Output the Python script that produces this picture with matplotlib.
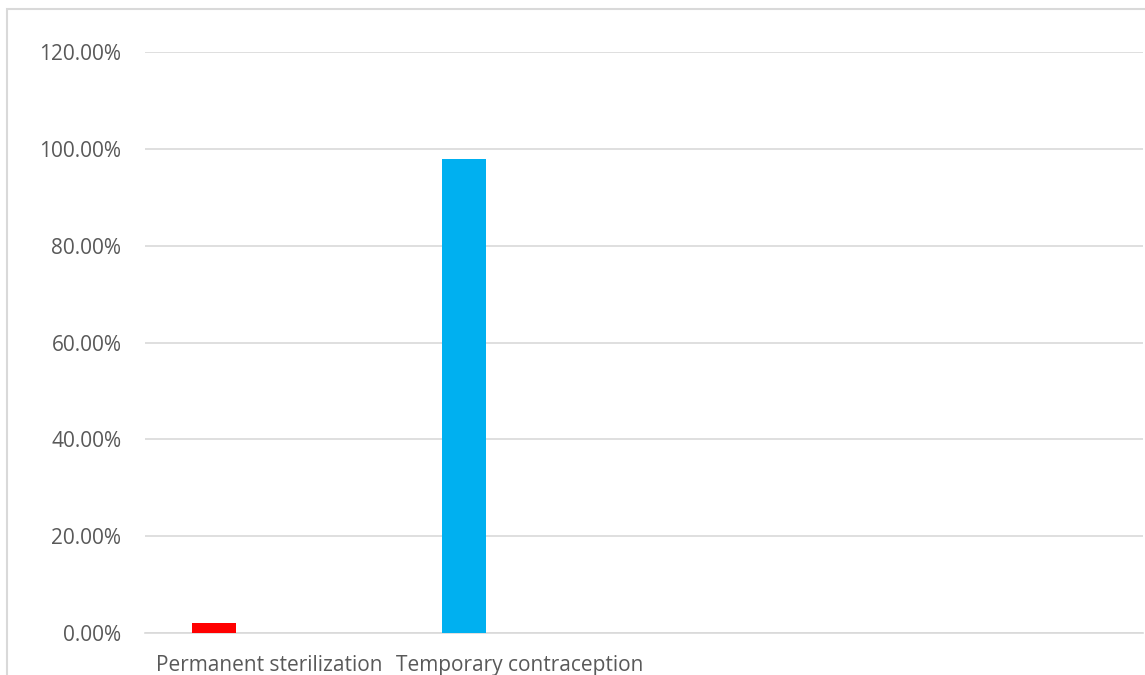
import matplotlib.pyplot as plt
import matplotlib.patches as mpatches
import numpy as np

# data
categories = ["Permanent sterilization", "Temporary contraception", "", ""]
values = [2.0, 98.0, None, None]
bar_colors = ['#FF0000', '#00B0F0', None, None]
y_ticks = [0, 20, 40, 60, 80, 100, 120]

W, H = 1145, 675
fig = plt.figure(figsize=(W / 100, H / 100), dpi=100)
ax = fig.add_axes([145 / W, 1 - 633 / H, (1143 - 145) / W, (633 - 52) / H])

# chart border (cut off on the right and bottom)
fig.patches.append(mpatches.Rectangle((7 / W, -0.5), 2.0, 1.5 - 9 / H,
                                      transform=fig.transFigure, fill=False,
                                      edgecolor='#D9D9D9', linewidth=1.5))

x = np.arange(len(categories))
bar_w = 44 / 249.5
offset = (47 + 22) / 249.5 - 0.5
for i, v in enumerate(values):
    if v is None:
        continue
    ax.bar(x[i] + offset, v, bar_w, color=bar_colors[i], zorder=3)

ax.set_xlim(-0.5, len(categories) - 0.5)
ax.set_ylim(0, 120)
ax.set_yticks(y_ticks)
ax.set_yticklabels([f"{t:.2f}%" for t in y_ticks])
ax.set_xticks(x)
ax.set_xticklabels(categories)
ax.grid(axis='y', color='#D9D9D9', linewidth=1.2, zorder=0)
for s in ['top', 'right', 'left']:
    ax.spines[s].set_visible(False)
ax.spines['bottom'].set_color('#D9D9D9')
ax.spines['bottom'].set_linewidth(1.2)
ax.tick_params(axis='both', length=0, colors='#595959', labelsize=15)
ax.tick_params(axis='y', pad=17)
ax.tick_params(axis='x', pad=16)
for lab in ax.get_xticklabels() + ax.get_yticklabels():
    lab.set_family('Open Sans')

fig.savefig('out.png', dpi=100)
